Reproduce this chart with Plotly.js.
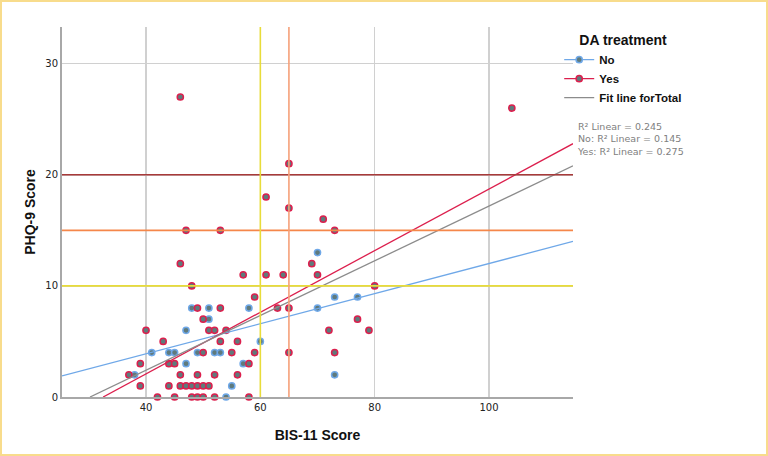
<!DOCTYPE html>
<html>
<head>
<meta charset="utf-8">
<script src="https://cdn.plot.ly/plotly-3.0.1.min.js"></script>
<style>
  html, body { margin: 0; padding: 0; background: #fff; }
  #frame {
    width: 768px; height: 456px; box-sizing: border-box;
    border: 2px solid #f8dc8c; background: #fff;
  }
  #chart { width: 764px; height: 452px; }
</style>
</head>
<body>
<div id="frame"><div id="chart"></div></div>
<script>
// BIS-11 vs PHQ-9, split by DA treatment
const noX  = [38, 41, 44, 45, 47, 47, 48, 49, 51, 51, 52, 53, 54, 55, 57, 58, 60, 70, 70, 73, 77, 73];
const noY  = [ 2,  4,  4,  4,  6,  3,  8,  4,  8,  7,  4,  4,  0,  1,  3,  8,  5, 13,  8,  9,  9,  2];

const yesX = [46, 104, 65, 61, 65, 71, 47, 53, 73, 46, 69, 57, 61, 64, 70, 48, 80, 59, 49, 53, 63, 65,
              50, 77, 40, 51, 52, 54, 72, 79, 43, 53, 56, 50, 55, 59, 65, 73, 39, 44, 45, 58,
              37, 46, 49, 52, 56, 39, 44, 46, 47, 48, 49, 50, 51, 42, 45, 48, 49, 50, 52, 58];
const yesY = [27, 26, 21, 18, 17, 16, 15, 15, 15, 12, 12, 11, 11, 11, 11, 10, 10,  9,  8,  8,  8,  8,
               7,  7,  6,  6,  6,  6,  6,  6,  5,  5,  5,  4,  4,  4,  4,  4,  3,  3,  3,  3,
               2,  2,  2,  2,  2,  1,  1,  1,  1,  1,  1,  1,  1,  0,  0,  0,  0,  0,  0,  0];

// fit line end points
const fitNoX    = [25.3, 114.7];
const fitNoY    = [1.9, 14.0];
const fitYesX   = [32.5, 114.7];
const fitYesY   = [0, 22.8];
const fitTotalX = [30.2, 114.7];
const fitTotalY = [0, 20.8];

// cut-off lines
const cutY = [10, 15, 20];
const cutX = [60, 65];

const rSquared = ['R² Linear = 0.245', 'No: R² Linear = 0.145', 'Yes: R² Linear = 0.275'];

const BLUE = '#6fa8e8';
const RED = '#dc1f4d';
const GREY = '#8c8c8c';
const FILL = '#5f7a7c';
const cutYColors = ['#e8dc3a', '#f5874a', '#a83a3a'];
const cutXColors = ['#e8dc3a', '#f5a07a'];

const markerStyle = (edge) => ({
    size: 6.2,
    color: FILL,
    line: { color: edge, width: 1.5 }
});

const traces = [
    {
        x: noX, y: noY, type: 'scatter', mode: 'markers',
        marker: markerStyle(BLUE), cliponaxis: false,
        showlegend: false, hoverinfo: 'x+y'
    },
    {
        x: yesX, y: yesY, type: 'scatter', mode: 'markers',
        marker: markerStyle(RED), cliponaxis: false,
        showlegend: false, hoverinfo: 'x+y'
    },
    {
        x: fitNoX, y: fitNoY, type: 'scatter', mode: 'lines',
        line: { color: BLUE, width: 1.3 }, showlegend: false, hoverinfo: 'none'
    },
    {
        x: fitYesX, y: fitYesY, type: 'scatter', mode: 'lines',
        line: { color: RED, width: 1.3 }, showlegend: false, hoverinfo: 'none'
    },
    {
        x: fitTotalX, y: fitTotalY, type: 'scatter', mode: 'lines',
        line: { color: GREY, width: 1.3 }, showlegend: false, hoverinfo: 'none'
    },
    // legend entries only
    {
        x: [null], y: [null], type: 'scatter', mode: 'lines+markers', name: 'No',
        line: { color: BLUE, width: 1.3 }, marker: markerStyle(BLUE)
    },
    {
        x: [null], y: [null], type: 'scatter', mode: 'lines+markers', name: 'Yes',
        line: { color: RED, width: 1.3 }, marker: markerStyle(RED)
    },
    {
        x: [null], y: [null], type: 'scatter', mode: 'lines', name: 'Fit line forTotal',
        line: { color: GREY, width: 1.3 }
    }
];

const shapes = [];
cutY.forEach((v, i) => shapes.push({
    type: 'line', xref: 'paper', x0: 0, x1: 1, yref: 'y', y0: v, y1: v,
    line: { color: cutYColors[i], width: 1.6 }
}));
cutX.forEach((v, i) => shapes.push({
    type: 'line', yref: 'paper', y0: 0, y1: 1, xref: 'x', x0: v, x1: v,
    line: { color: cutXColors[i], width: 1.6 }
}));

const tickFont = { family: 'DejaVu Sans, sans-serif', size: 10, color: '#222' };
const titleFont = { family: 'Liberation Sans, Arial, sans-serif', size: 14, color: '#111', weight: 'bold' };

const layout = {
    width: 764,
    height: 452,
    margin: { l: 60, r: 193, t: 25, b: 57 },
    paper_bgcolor: '#fff',
    plot_bgcolor: '#fff',
    showlegend: true,
    legend: {
        x: 0.973, y: 1.0, xanchor: 'left', yanchor: 'top',
        itemwidth: 30,
        bgcolor: 'rgba(0,0,0,0)',
        font: { family: 'Liberation Sans, Arial, sans-serif', size: 11.5, color: '#111', weight: 'bold' },
        title: {
            text: 'DA treatment',
            side: 'top center',
            font: { family: 'Liberation Sans, Arial, sans-serif', size: 14, color: '#111', weight: 'bold' }
        },
        tracegroupgap: 0
    },
    xaxis: {
        range: [25.3, 114.7],
        tickmode: 'array',
        tickvals: [40, 60, 80, 100],
        showgrid: true, gridcolor: '#d0d0d0', gridwidth: 1.5,
        zeroline: false,
        showline: true, linecolor: '#a8a8a8', linewidth: 2,
        ticks: '',
        tickfont: tickFont,
        title: { text: 'BIS-11 Score', font: titleFont, standoff: 18 },
        fixedrange: true
    },
    yaxis: {
        range: [0, 33.3],
        tickmode: 'array',
        tickvals: [0, 10, 20, 30],
        showgrid: true, gridcolor: '#d0d0d0', gridwidth: 1.5,
        zeroline: false,
        showline: true, linecolor: '#a8a8a8', linewidth: 2,
        ticks: '',
        tickfont: tickFont,
        title: { text: 'PHQ-9 Score', font: titleFont, standoff: 6 },
        fixedrange: true
    },
    shapes: shapes,
    annotations: [{
        xref: 'paper', yref: 'paper', x: 1.004, y: 0.752,
        xanchor: 'left', yanchor: 'top', align: 'left', showarrow: false,
        text: rSquared.join('<br>'),
        font: { family: 'DejaVu Sans, sans-serif', size: 9.5, color: '#808080' }
    }]
};

Plotly.newPlot('chart', traces, layout, { displayModeBar: false, staticPlot: true });
</script>
</body>
</html>
